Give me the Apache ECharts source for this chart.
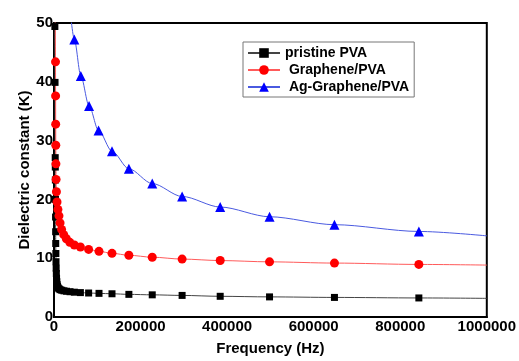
<!DOCTYPE html>
<html>
<head>
<meta charset="utf-8">
<script src="https://cdn.jsdelivr.net/npm/echarts@6/dist/echarts.min.js"></script>
<style>
  html, body { margin: 0; padding: 0; background: #fff; }
  #chart { width: 519px; height: 361px; }
</style>
</head>
<body>
<div id="chart"></div>
<script>
// Frequency (Hz) and dielectric constant K for each film
const pristineFreq = [1500, 2000, 2400, 2800, 3000, 3200, 3400, 3600, 3800, 4000, 4300, 4600, 5000, 5400, 5900, 6500, 7200, 8200, 9500, 11500, 14000, 18000, 23000, 29000, 37000, 47000, 61000, 80000, 104000, 134000, 173000, 227000, 296000, 384000, 498000, 648000, 843000, 1000000];
const pristineK    = [60, 49.4, 39.9, 27.1, 25.5, 23.3, 20, 17, 14.5, 12.5, 10.8, 9.4, 8.3, 7.4, 6.6, 6.0, 5.5, 5.2, 4.95, 4.8, 4.65, 4.55, 4.45, 4.38, 4.3, 4.22, 4.15, 4.08, 4.02, 3.95, 3.85, 3.77, 3.67, 3.52, 3.42, 3.33, 3.24, 3.17];

const grapheneFreq = [2500, 3500, 3700, 3900, 4100, 4400, 4800, 5600, 7000, 9000, 11500, 14000, 17500, 22500, 28500, 36500, 47000, 61000, 80000, 104000, 134000, 173000, 227000, 296000, 384000, 498000, 648000, 843000, 1000000];
const grapheneK    = [60, 43.4, 37.6, 32.8, 29.2, 26.05, 23.4, 21.3, 19.55, 18.3, 17.2, 16.0, 14.9, 14.0, 13.3, 12.7, 12.25, 11.9, 11.5, 11.17, 10.83, 10.5, 10.17, 9.85, 9.6, 9.38, 9.17, 8.94, 8.83];

const agFreq = [36000, 47000, 62000, 81000, 103000, 134000, 173000, 227000, 296000, 384000, 498000, 648000, 843000, 1000000];
const agK    = [53, 47.2, 41.0, 35.9, 31.7, 28.2, 25.2, 22.7, 20.5, 18.7, 17.05, 15.7, 14.55, 13.8];

const seriesNames = ['pristine PVA', 'Graphene/PVA', 'Ag-Graphene/PVA'];
const xTicks = { min: 0, max: 1000000, interval: 200000 };
const yTicks = { min: 0, max: 50, interval: 10 };

// The curve runs on to the right edge of the frame, without a symbol on the last point
function pairs(fs, ks) {
  return fs.map((f, i) => (f === xTicks.max ? { value: [f, ks[i]], symbol: 'none' } : [f, ks[i]]));
}

const font = 'Arial, "Liberation Sans", sans-serif';
const chart = echarts.init(document.getElementById('chart'), null, { renderer: 'canvas' });

function lineSeries(name, fs, ks, symbol, size, markColor, lineColor) {
  return {
    name: name,
    type: 'line',
    data: pairs(fs, ks),
    symbol: symbol,
    symbolSize: size,
    showAllSymbol: true,
    smooth: 0.3,
    smoothMonotone: 'x',
    clip: true,
    itemStyle: { color: markColor },
    lineStyle: { color: lineColor, width: 1 },
    emphasis: { disabled: true },
    z: 3
  };
}

chart.setOption({
  animation: false,
  backgroundColor: '#fff',
  grid: {
    left: 54, top: 23, right: 30, bottom: 38,
    show: true, borderColor: '#000', borderWidth: 2,
    containLabel: false
  },
  legend: {
    orient: 'vertical',
    left: 243, top: 42,
    padding: [4, 5, 3, 4],
    itemWidth: 32, itemHeight: 12, itemGap: 3,
    borderColor: '#777', borderWidth: 1,
    backgroundColor: '#fff',
    data: seriesNames,
    formatter: n => (n === seriesNames[0] ? n : ' ' + n),
    textStyle: { fontFamily: font, fontWeight: 'bold', fontSize: 14, color: '#000' }
  },
  xAxis: {
    type: 'value',
    min: xTicks.min, max: xTicks.max, interval: xTicks.interval,
    name: 'Frequency (Hz)',
    nameLocation: 'middle', nameGap: 24, nameMoveOverlap: false,
    nameTextStyle: { fontFamily: font, fontWeight: 'bold', fontSize: 15, color: '#000' },
    axisLine: { show: true, lineStyle: { color: '#000', width: 2 } },
    axisTick: { show: false },
    splitLine: { show: false },
    axisLabel: {
      margin: 2, fontFamily: font, fontWeight: 'bold', fontSize: 15, color: '#000', showMaxLabel: true,
      formatter: v => String(v)
    }
  },
  yAxis: {
    type: 'value',
    min: yTicks.min, max: yTicks.max, interval: yTicks.interval,
    name: 'Dielectric constant (K)',
    nameLocation: 'middle', nameGap: 22, nameRotate: 90, nameMoveOverlap: false,
    nameTextStyle: { fontFamily: font, fontWeight: 'bold', fontSize: 15, color: '#000' },
    axisLine: { show: true, lineStyle: { color: '#000', width: 2 } },
    axisTick: { show: false },
    splitLine: { show: false },
    axisLabel: { margin: 1, fontFamily: font, fontWeight: 'bold', fontSize: 15, color: '#000' }
  },
  series: [
    lineSeries(seriesNames[0], pristineFreq, pristineK, 'rect', 7, '#000', '#444'),
    lineSeries(seriesNames[1], grapheneFreq, grapheneK, 'circle', 9, '#ff0000', '#ff5a5a'),
    lineSeries(seriesNames[2], agFreq, agK, 'triangle', 10, '#0000ff', '#4a5ae0')
  ]
});
</script>
</body>
</html>
